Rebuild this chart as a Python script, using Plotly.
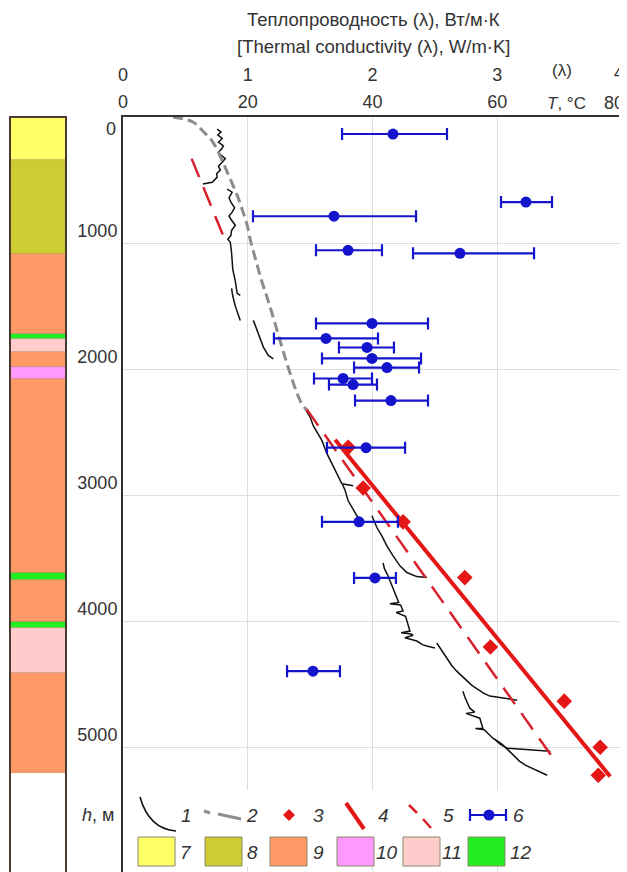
import plotly.graph_objects as go

# page body has an 8px margin; the figure is sized so it ends at the window edge
OFF = 8
W, H = 627 - OFF, 872 - OFF

# ---------------- data ----------------
# stratigraphic column: layer tops / bottoms (m) and legend code
layer_top = [0, 340, 1090, 1722, 1760, 1865, 1984, 2079, 3620, 3675, 4008, 4055, 4413]
layer_bottom = [340, 1090, 1722, 1760, 1865, 1984, 2079, 3620, 3675, 4008, 4055, 4413, 5206]
layer_code = [7, 8, 9, 12, 11, 9, 10, 9, 12, 9, 12, 11, 9]
code_colors = {7: "#ffff66", 8: "#cccc33", 9: "#ff9966", 10: "#ff99ff", 11: "#ffcccc", 12: "#22ee22"}
legend_codes = [7, 8, 9, 10, 11, 12]

# 1: measured temperature logs (segments separated by None)
log_T = [15.1, 15.7, 15.2, 15.9, 15.3, 16.1, 15.8, 15.3, 15.7, 16.4, 15.9, 15.3, 15.6, 15.0, 15.1, 14.3, 12.8, None,
         16.7, 17.5, 17.0, 17.3, 17.9, 17.5, 17.0, 17.3, 18.0, 17.4, 17.3, 16.8, 17.2, 17.4, 17.6, 18.0, 18.3, 18.8, None,
         17.4, 17.6, 18.0, 18.4, 18.8, None,
         20.9, 21.7, 22.5, 23.3, 24.1, None,
         29.2, 30.0, 30.5, 31.3, 31.9, 32.7, 33.5, 34.3, 35.1, 36.9, None,
         35.2, 35.6, 36.1, 36.8, 37.5, 38.3, None,
         39.9, 40.7, 41.5, 42.3, 43.3, 44.4, 45.5, 47.1, 48.7, None,
         41.7, 41.9, 42.5, 42.8, 43.2, 43.5, 43.9, 44.2, 42.8, 44.5, 44.9, 43.8, 45.3, 45.5, 46.0, 44.6, 46.2,
         46.5, 45.2, 47.1, 48.0, 48.7, 50.0, None,
         50.3, 51.1, 51.9, 52.7, 53.5, 54.4, 55.2, 56.0, 56.8, 57.8, 58.8, 60.9, 63.2, None,
         54.5, 54.8, 55.6, 56.4, 55.0, 57.2, 57.7, 56.5, 57.9, 58.6, 59.3, 60.8, 62.0, 62.8, 63.6, 64.5, 65.7, 68.0, None,
         59.6, 60.5, 61.6, 63.6, 66.0, 68.5]
log_h = [95, 120, 143, 170, 199, 230, 254, 280, 302, 330, 358, 390, 421, 450, 477, 517, 532, None,
         572, 596, 640, 676, 720, 755, 785, 811, 858, 900, 940, 970, 993, 1073, 1208, 1300, 1399, 1415, None,
         1360, 1420, 1500, 1560, 1613, None,
         1613, 1719, 1825, 1891, 1918, None,
         2313, 2380, 2448, 2510, 2567, 2670, 2750, 2821, 2909, 2925, None,
         2915, 2960, 3044, 3100, 3163, 3211, None,
         3163, 3256, 3322, 3401, 3481, 3560, 3613, 3645, 3653, None,
         3537, 3580, 3640, 3680, 3720, 3760, 3815, 3850, 3860, 3870, 3918, 3930, 3960, 4000, 4077, 4090, 4100,
         4110, 4130, 4156, 4185, 4196, 4212, None,
         4172, 4230, 4291, 4350, 4395, 4440, 4474, 4510, 4538, 4570, 4593, 4609, 4625, None,
         4554, 4600, 4689, 4720, 4730, 4768, 4848, 4850, 4860, 4895, 4927, 4975, 5030, 5070, 5110, 5140, 5166, 5221, None,
         4935, 4975, 5007, 5014, 5024, 5030]

# 2: calculated / reconstructed temperature
calc_T = [8.0, 11.2, 12.8, 14.4, 16.0, 17.2, 18.3, 19.1, 19.9, 20.5, 21.3, 22.3, 23.1, 23.9, 25.5, 26.8, 28.4, 29.5]
calc_h = [0, 40, 111, 199, 358, 493, 620, 731, 858, 993, 1136, 1311, 1431, 1558, 1828, 2034, 2249, 2328]

# 3: point temperature measurements
pt_T = [36.1, 38.5, 44.9, 54.8, 58.9, 70.75, 76.5, 76.2]
pt_h = [2620, 2943, 3211, 3653, 4204, 4633, 4999, 5221]

# 4: regression line
fit_T = [34.0, 78.1]
fit_h = [2560, 5230]

# 5: gradient lines (dashed)
grad_T = [11.0, 16.6, None, 29.45, 69.5]
grad_h = [330, 1005, None, 2318, 5123]

# 6: thermal conductivity with ranges
lam = [2.164, 3.230, 1.691, 1.804, 2.701, 1.996, 1.627, 1.956, 1.996, 2.116, 1.764, 1.844, 2.148, 1.948, 1.892, 2.020, 1.523]
lam_lo = [1.756, 3.030, 1.042, 1.547, 2.325, 1.547, 1.210, 1.731, 1.595, 1.852, 1.531, 1.651, 1.860, 1.635, 1.595, 1.852, 1.315]
lam_hi = [2.597, 3.439, 2.349, 2.076, 3.295, 2.445, 2.044, 2.172, 2.389, 2.373, 1.996, 2.036, 2.445, 2.261, 2.204, 2.188, 1.739]
lam_h = [135, 675, 787, 1057, 1081, 1637, 1756, 1828, 1915, 1987, 2074, 2122, 2249, 2623, 3211, 3656, 4395]

depth_ticks = [1000, 2000, 3000, 4000, 5000, 6000]
T_ticks = [0, 20, 40, 60, 80]
lam_ticks = [0, 1, 2, 3, 4]

# ---------------- styling ----------------
FONT = "Arial, Liberation Sans, sans-serif"
TXT = "#333333"
RED = "rgb(228,22,22)"
RED_D = "rgb(214,34,44)"
BLUE = "rgb(20,20,205)"
GRAY = "rgb(140,140,140)"
FS = 18


def px(x):
    """window pixel x -> paper fraction"""
    return (x - OFF) / W


def py(y):
    """window pixel y -> paper fraction"""
    return 1 - (y - OFF) / H


plot_top = 117
x_dom = [px(123), px(622)]

fig = go.Figure()

# stratigraphic column
fig.add_trace(go.Bar(
    x=[0] * len(layer_top),
    y=[b - t for t, b in zip(layer_top, layer_bottom)],
    base=layer_top,
    width=1,
    marker=dict(color=[code_colors[c] for c in layer_code],
                line=dict(color="rgba(120,90,60,0.35)", width=0.6)),
    xaxis="x2", yaxis="y", showlegend=False, hoverinfo="skip",
))

# 1 logs
fig.add_trace(go.Scatter(x=log_T, y=log_h, mode="lines", connectgaps=False,
                         line=dict(color="#111111", width=1.5), showlegend=False))
# 2 calculated
fig.add_trace(go.Scatter(x=calc_T, y=calc_h, mode="lines",
                         line=dict(color=GRAY, width=3, dash="10px,5px", shape="spline"), showlegend=False))
# 5 dashed gradient
fig.add_trace(go.Scatter(x=grad_T, y=grad_h, mode="lines", connectgaps=False,
                         line=dict(color=RED_D, width=2.5, dash="20px,11px"), showlegend=False))
# 4 solid regression
fig.add_trace(go.Scatter(x=fit_T, y=fit_h, mode="lines",
                         line=dict(color=RED, width=4), showlegend=False))
# 3 points
fig.add_trace(go.Scatter(x=pt_T, y=pt_h, mode="markers",
                         marker=dict(symbol="diamond", size=12, color=RED), showlegend=False))
# 6 conductivity
fig.add_trace(go.Scatter(
    x=lam, y=lam_h, mode="markers", xaxis="x3", yaxis="y",
    marker=dict(size=11, color=BLUE),
    error_x=dict(type="data", symmetric=False,
                 array=[h - v for h, v in zip(lam_hi, lam)],
                 arrayminus=[v - l for v, l in zip(lam, lam_lo)],
                 color=BLUE, thickness=2.2, width=6),
    showlegend=False))

shapes = []
annotations = []

# column frame
shapes.append(dict(type="rect", xref="x2 domain", yref="paper", x0=0, x1=1, y0=-0.01, y1=py(plot_top),
                   line=dict(color="#4a3a30", width=2), fillcolor="rgba(0,0,0,0)", layer="above"))

# legend background box
shapes.append(dict(type="rect", xref="paper", yref="paper", x0=px(125), x1=px(620), y0=py(866), y1=py(790),
                   line=dict(width=0), fillcolor="white", layer="above"))

LW = dict(layer="above", xref="paper", yref="paper")
# legend row 1
row1 = 815
shapes.append(dict(type="path", path=f"M {px(140)},{py(797)} Q {px(149)},{py(829)} {px(176)},{py(831)}",
                   line=dict(color="#111111", width=1.6), **LW))
shapes.append(dict(type="line", x0=px(204), y0=py(811), x1=px(210), y1=py(813), line=dict(color=GRAY, width=3), **LW))
shapes.append(dict(type="line", x0=px(218), y0=py(814), x1=px(241), y1=py(819), line=dict(color=GRAY, width=3), **LW))
shapes.append(dict(type="path",
                   path=f"M {px(289)},{py(row1-6)} L {px(295)},{py(row1)} L {px(289)},{py(row1+6)} L {px(283)},{py(row1)} Z",
                   fillcolor=RED, line=dict(width=0), **LW))
shapes.append(dict(type="line", x0=px(346), y0=py(803), x1=px(364), y1=py(829), line=dict(color=RED, width=4), **LW))
shapes.append(dict(type="line", x0=px(409), y0=py(805), x1=px(417), y1=py(813), line=dict(color=RED_D, width=2.5), **LW))
shapes.append(dict(type="line", x0=px(423), y0=py(819), x1=px(431), y1=py(828), line=dict(color=RED_D, width=2.5), **LW))
shapes.append(dict(type="line", x0=px(470), y0=py(row1), x1=px(506), y1=py(row1), line=dict(color=BLUE, width=2.2), **LW))
shapes.append(dict(type="line", x0=px(470), y0=py(row1 - 6), x1=px(470), y1=py(row1 + 6), line=dict(color=BLUE, width=2.2), **LW))
shapes.append(dict(type="line", x0=px(506), y0=py(row1 - 6), x1=px(506), y1=py(row1 + 6), line=dict(color=BLUE, width=2.2), **LW))
shapes.append(dict(type="circle", x0=px(483.5), y0=py(row1 + 5.5), x1=px(494.5), y1=py(row1 - 5.5),
                   fillcolor=BLUE, line=dict(width=0), **LW))
for lbl, xc in zip(["1", "2", "3", "4", "5", "6"], [186, 252, 318, 383, 448, 518]):
    annotations.append(dict(text=f"<i>{lbl}</i>", x=px(xc), y=py(row1), xref="paper", yref="paper",
                            showarrow=False, xanchor="center", yanchor="middle",
                            font=dict(size=19, color=TXT, family=FONT)))

# legend row 2 (swatches)
sw_x = [138, 205, 270, 337, 403, 468]
lab_x = [186, 252, 318, 387, 452, 521]
for code, x0, xl in zip(legend_codes, sw_x, lab_x):
    shapes.append(dict(type="rect", x0=px(x0), x1=px(x0 + 37), y0=py(866), y1=py(837),
                       fillcolor=code_colors[code], line=dict(color="#8a8a6a", width=1), **LW))
    annotations.append(dict(text=f"<i>{code}</i>", x=px(xl), y=py(852), xref="paper", yref="paper",
                            showarrow=False, xanchor="center", yanchor="middle",
                            font=dict(size=19, color=TXT, family=FONT)))

# titles / axis notes
annotations += [
    dict(text="Теплопроводность (λ), Вт/м·К", x=px(373), y=py(20), xref="paper", yref="paper",
         showarrow=False, xanchor="center", yanchor="middle", font=dict(size=18.5, color=TXT, family=FONT)),
    dict(text="[Thermal conductivity (λ), W/m·K]", x=px(373), y=py(47), xref="paper", yref="paper",
         showarrow=False, xanchor="center", yanchor="middle", font=dict(size=18.5, color=TXT, family=FONT)),
    dict(text="(λ)", x=px(562), y=py(71), xref="paper", yref="paper",
         showarrow=False, xanchor="center", yanchor="middle", font=dict(size=17, color=TXT, family=FONT)),
    dict(text="<i>T</i>, °C", x=px(566), y=py(103), xref="paper", yref="paper",
         showarrow=False, xanchor="center", yanchor="middle", font=dict(size=17, color=TXT, family=FONT)),
    # end-of-scale labels at the right window edge
    dict(text=str(lam_ticks[-1]), x=px(626), y=py(73), xref="paper", yref="paper",
         showarrow=False, xanchor="right", yanchor="middle", font=dict(size=FS, color=TXT, family=FONT)),
    dict(text=str(T_ticks[-1]), x=px(626), y=py(103), xref="paper", yref="paper",
         showarrow=False, xanchor="right", yanchor="middle", font=dict(size=FS, color=TXT, family=FONT)),
    dict(text="0", x=px(118), y=py(129), xref="paper", yref="paper",
         showarrow=False, xanchor="right", yanchor="middle", font=dict(size=FS, color=TXT, family=FONT)),
    dict(text="<i>h</i>, м", x=px(98), y=py(815), xref="paper", yref="paper",
         showarrow=False, xanchor="center", yanchor="middle", font=dict(size=18, color=TXT, family=FONT)),
]

fig.update_layout(
    width=W, height=H,
    margin=dict(l=0, r=0, t=0, b=0, pad=0, autoexpand=False),
    paper_bgcolor="white", plot_bgcolor="white",
    barmode="overlay", bargap=0,
    font=dict(family=FONT, size=FS, color=TXT),
    showlegend=False,
    xaxis=dict(domain=x_dom, range=[0, 80], side="top", anchor="y", automargin=False,
               tickvals=T_ticks[:-1], ticktext=[str(v) for v in T_ticks[:-1]], ticks="",
               showgrid=True, gridcolor="#dddddd", gridwidth=1,
               showline=True, linecolor="#333333", linewidth=2, zeroline=False,
               tickfont=dict(size=FS, color=TXT)),
    xaxis3=dict(overlaying="x", side="top", anchor="free", position=py(85), range=[0, 4], automargin=False,
                tickvals=lam_ticks[:-1], ticktext=[str(v) for v in lam_ticks[:-1]], ticks="",
                showgrid=False, showline=False, zeroline=False,
                tickfont=dict(size=FS, color=TXT)),
    xaxis2=dict(domain=[px(10), px(66)], range=[-0.5, 0.5], visible=False, anchor="y", fixedrange=True,
                automargin=False),
    yaxis=dict(domain=[0, py(plot_top)], range=[5988, 0], anchor="x", automargin=False,
               tickvals=depth_ticks, ticktext=[str(v) for v in depth_ticks], ticks="",
               ticklabelposition="outside top",
               showgrid=True, gridcolor="#dddddd", gridwidth=1,
               showline=True, mirror=True, linecolor="#333333", linewidth=2, zeroline=False,
               tickfont=dict(size=FS, color=TXT)),
    shapes=shapes,
    annotations=annotations,
)

fig.write_html("out.html")
